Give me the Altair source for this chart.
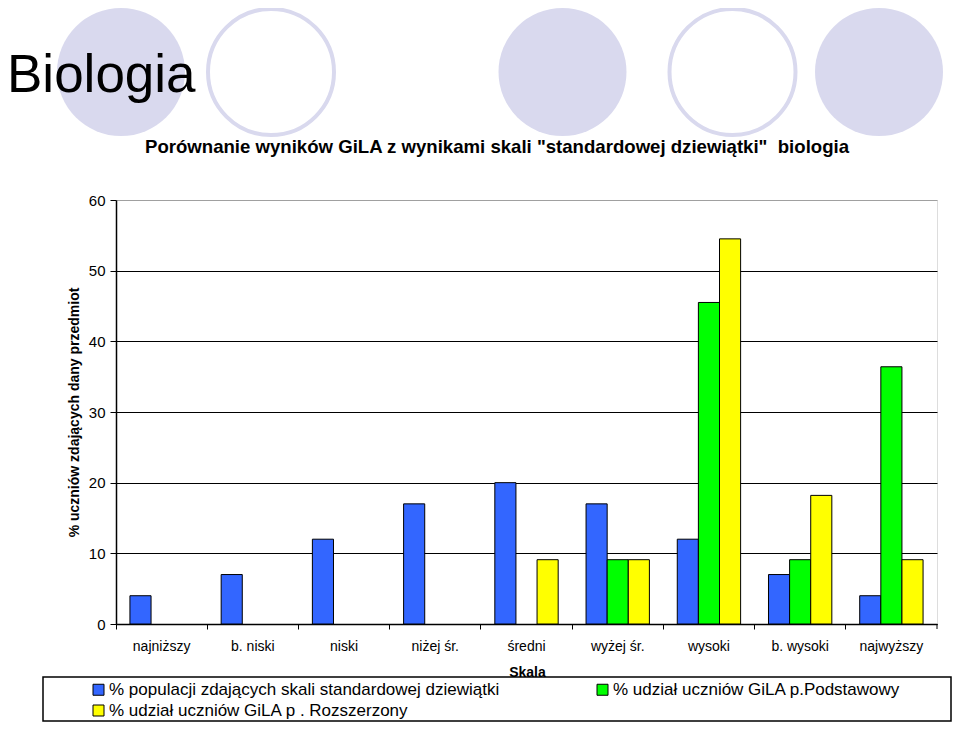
import altair as alt
import pandas as pd

categories = ["najniższy", "b. niski", "niski", "niżej śr.", "średni",
              "wyżej śr.", "wysoki", "b. wysoki", "najwyższy"]
series_names = [
    "% populacji zdających skali standardowej dziewiątki",
    "% udział uczniów GiLA p.Podstawowy",
    "% udział uczniów GiLA p . Rozszerzony",
]
population = [4, 7, 12, 17, 20, 17, 12, 7, 4]
podstawowy = [0, 0, 0, 0, 0, 9.1, 45.5, 9.1, 36.4]
rozszerzony = [0, 0, 0, 0, 9.1, 9.1, 54.5, 18.2, 9.1]
series_colors = ["#3366FF", "#00FF00", "#FFFF00"]
y_ticks = [0, 10, 20, 30, 40, 50, 60]

rows = []
for name, vals in zip(series_names, [population, podstawowy, rozszerzony]):
    for c, v in zip(categories, vals):
        rows.append({"category": c, "series": name, "value": v})
df = pd.DataFrame(rows)

FONT = "Liberation Sans"
LAV = "#D9D9EE"
one = pd.DataFrame({"k": [0]})

bars = alt.Chart(df).transform_filter("datum.value > 0").mark_bar(
    stroke="black", strokeWidth=1
).encode(
    x=alt.X("category:N", sort=categories,
            scale=alt.Scale(domain=categories, paddingInner=0, paddingOuter=0),
            axis=alt.Axis(title="Skala", titleX=411, titleY=48, titleFontSize=14,
                          titleFontWeight="bold", titleBaseline="middle",
                          titleAlign="center", titleColor="black", titleFont=FONT,
                          labelFontSize=14, labelFont=FONT, labelColor="black",
                          labelAngle=0, labelPadding=10, tickSize=5,
                          tickColor="black", bandPosition=0, domainColor="black",
                          domainWidth=1.5, grid=False)),
    xOffset=alt.XOffset("series:N",
                        scale=alt.Scale(domain=series_names, paddingInner=0,
                                        paddingOuter=0.66)),
    y=alt.Y("value:Q", scale=alt.Scale(domain=[0, 60], nice=False),
            axis=alt.Axis(values=y_ticks, title="% uczniów zdających dany przedmiot",
                          titleX=-42, titleY=212, titleAngle=-90, titleAlign="center",
                          titleBaseline="middle", titleFontSize=14,
                          titleFontWeight="bold", titleColor="black", titleFont=FONT,
                          labelFontSize=15, labelFont=FONT, labelColor="black",
                          labelPadding=5, tickSize=6, tickColor="black",
                          domainColor="black", domainWidth=1.5, grid=True,
                          gridColor=alt.condition("datum.value === 60",
                                                  alt.value("#A0A0A0"),
                                                  alt.value("black")),
                          gridWidth=1)),
    color=alt.Color("series:N",
                    scale=alt.Scale(domain=series_names, range=series_colors),
                    legend=alt.Legend(title=None, orient="none", legendX=-26,
                                      legendY=481, columns=2, columnPadding=94,
                                      direction="horizontal",
                                      rowPadding=3, symbolType="square",
                                      symbolSize=121, symbolStrokeColor="black",
                                      symbolStrokeWidth=1, labelFontSize=17,
                                      labelFont=FONT, labelColor="black",
                                      labelOffset=2, labelLimit=0)),
)


def circle(cx, filled):
    if filled:
        m = alt.Chart(one).mark_point(shape="circle", filled=True, size=128 * 128,
                                      color=LAV, opacity=1, strokeWidth=0)
    else:
        m = alt.Chart(one).mark_point(shape="circle", filled=False, size=126 * 126,
                                      stroke=LAV, strokeWidth=4, opacity=1)
    return m.encode(x=alt.value(cx), y=alt.value(-128))


circles = [circle(5, True), circle(155, False), circle(446.5, True),
           circle(616.5, False), circle(763, True)]

big_title = alt.Chart(one).mark_text(
    text="Biologia", fontSize=53, font=FONT, align="left", baseline="alphabetic",
    color="black"
).encode(x=alt.value(-109), y=alt.value(-108))

chart_title = alt.Chart(one).mark_text(
    text='Porównanie wyników GiLA z wynikami skali "standardowej dziewiątki"\u00a0 biologia',
    fontSize=18.6, font=FONT, fontWeight="bold", align="center", baseline="middle",
    color="black"
).encode(x=alt.value(381), y=alt.value(-53))

legend_box = alt.Chart(one).mark_rect(
    filled=False, stroke="black", strokeWidth=1.5
).encode(x=alt.value(-73), x2=alt.value(835), y=alt.value(477), y2=alt.value(521))

end_tick = alt.Chart(one).mark_rule(color="black", strokeWidth=1).encode(
    x=alt.value(821), y=alt.value(424), y2=alt.value(429))

chart = alt.layer(*circles, big_title, chart_title, bars, legend_box, end_tick).properties(
    width=821, height=424,
    autosize=alt.AutoSizeParams(type="none"),
    padding={"left": 108, "top": 192, "right": 15, "bottom": 98},
).configure_view(stroke="#A0A0A0", strokeWidth=2).configure(background="white")

chart.save("out.html", embed_options={"renderer": "svg", "actions": False})
